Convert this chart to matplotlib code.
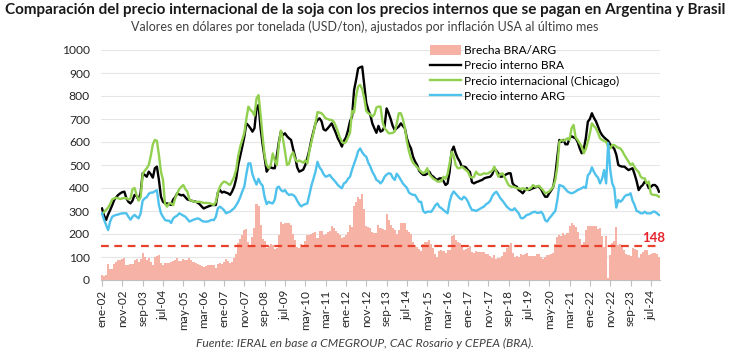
import matplotlib.pyplot as plt
import numpy as np

plt.rcParams['font.family'] = ['Lato', 'DejaVu Sans']

# Monthly values, ene-02 .. nov-24, USD/ton adjusted for US inflation
bra = [
    311, 280, 261, 285, 304, 325, 348, 360, 370, 377, 382, 384,  # 2002
    355, 340, 333, 345, 370, 365, 348, 380, 464, 457, 449, 471,  # 2003
    460, 445, 486, 493, 435, 362, 340, 333, 333, 330, 326, 350,  # 2004
    360, 377, 372, 368, 370, 360, 350, 348, 345, 342, 341, 336,  # 2005
    330, 320, 311, 315, 319, 322, 326, 326, 326, 380, 391, 380,  # 2006
    384, 380, 377, 370, 385, 406, 440, 500, 540, 580, 623, 681,  # 2007
    672, 660, 645, 660, 745, 761, 660, 590, 529, 471, 486, 490,  # 2008
    486, 486, 540, 600, 645, 630, 638, 625, 616, 609, 570, 536,  # 2009
    490, 471, 475, 480, 500, 530, 565, 610, 645, 680, 696, 703,  # 2010
    690, 655, 650, 659, 670, 681, 660, 640, 616, 600, 580, 605,  # 2011
    620, 650, 690, 710, 826, 870, 920, 925, 928, 850, 770, 740,  # 2012
    717, 680, 659, 640, 670, 645, 650, 667, 746, 725, 700, 670,  # 2013
    652, 660, 667, 681, 670, 659, 616, 590, 572, 536, 515, 500,  # 2014
    475, 465, 457, 457, 462, 471, 455, 449, 440, 435, 442, 442,  # 2015
    430, 413, 420, 471, 560, 580, 551, 530, 515, 493, 493, 490,  # 2016
    478, 470, 425, 420, 425, 428, 432, 435, 442, 445, 447, 449,  # 2017
    460, 486, 475, 464, 449, 450, 455, 460, 464, 464, 420, 410,  # 2018
    406, 391, 385, 377, 390, 399, 391, 395, 399, 402, 406, 406,  # 2019
    395, 377, 362, 362, 377, 390, 406, 457, 536, 609, 600, 609,  # 2020
    590, 590, 616, 625, 620, 616, 600, 572, 551, 570, 616, 688,  # 2021
    700, 725, 705, 690, 667, 645, 630, 620, 612, 605, 590, 580,  # 2022
    570, 545, 500, 495, 493, 493, 485, 478, 482, 486, 460, 430,  # 2023
    391, 405, 413, 428, 420, 399, 405, 413, 413, 405, 384,       # 2024
]

chicago = [
    288, 295, 305, 315, 330, 350, 355, 358, 355, 352, 355, 356,
    356, 350, 355, 395, 400, 370, 345, 360, 460, 475, 486, 500,
    540, 590, 609, 605, 543, 470, 435, 330, 319, 333, 333, 325,
    355, 377, 395, 405, 413, 395, 384, 350, 345, 342, 340, 340,
    340, 338, 335, 335, 335, 333, 330, 326, 340, 380, 406, 420,
    428, 425, 418, 413, 430, 449, 480, 540, 580, 610, 640, 700,
    754, 740, 732, 715, 790, 804, 720, 623, 540, 500, 486, 500,
    550, 520, 500, 590, 650, 615, 560, 500, 505, 540, 555, 525,
    514, 520, 515, 510, 520, 507, 560, 600, 640, 680, 730, 728,
    725, 715, 703, 700, 696, 696, 688, 670, 645, 620, 601, 594,
    600, 620, 640, 735, 728, 800, 841, 848, 830, 790, 735, 725,
    720, 710, 720, 750, 754, 754, 688, 659, 650, 638, 638, 640,
    645, 680, 725, 725, 700, 660, 601, 560, 529, 510, 500, 490,
    480, 471, 464, 470, 486, 460, 449, 440, 435, 428, 428, 430,
    449, 440, 460, 507, 558, 540, 500, 486, 486, 493, 485, 478,
    471, 450, 445, 449, 471, 460, 457, 460, 464, 462, 464, 470,
    475, 493, 470, 449, 460, 464, 449, 430, 413, 406, 406, 404,
    399, 399, 395, 399, 396, 391, 395, 400, 413, 406, 406, 410,
    400, 390, 377, 380, 385, 395, 406, 435, 493, 600, 609, 605,
    610, 616, 609, 660, 674, 620, 609, 594, 580, 551, 570, 600,
    638, 681, 670, 659, 640, 616, 609, 605, 601, 580, 572, 587,
    587, 580, 575, 572, 560, 543, 529, 515, 500, 507, 490, 478,
    470, 449, 442, 442, 420, 428, 375, 370, 370, 368, 362,
]

arg = [
    290, 262, 240, 217, 254, 275, 280, 283, 285, 288, 290, 290,
    290, 275, 262, 275, 283, 275, 268, 290, 345, 355, 360, 375,
    380, 380, 386, 390, 326, 290, 275, 261, 258, 258, 248, 268,
    275, 280, 290, 285, 280, 275, 265, 254, 258, 262, 265, 268,
    265, 258, 254, 254, 254, 258, 262, 260, 275, 312, 319, 312,
    304, 290, 294, 297, 305, 312, 325, 340, 360, 385, 406, 460,
    507, 507, 460, 435, 415, 440, 420, 410, 360, 330, 340, 335,
    333, 350, 400, 406, 391, 385, 391, 377, 370, 372, 370, 362,
    345, 330, 320, 326, 330, 333, 370, 410, 440, 470, 514, 490,
    478, 460, 449, 452, 457, 445, 435, 425, 413, 405, 399, 420,
    425, 440, 449, 480, 505, 530, 560, 572, 555, 543, 536, 510,
    493, 470, 455, 435, 430, 420, 430, 449, 458, 464, 462, 445,
    435, 462, 450, 435, 420, 410, 400, 380, 374, 370, 370, 355,
    340, 340, 300, 292, 297, 297, 297, 310, 325, 333, 318, 312,
    304, 297, 290, 340, 370, 385, 375, 365, 355, 350, 362, 355,
    341, 320, 304, 304, 300, 305, 310, 315, 320, 330, 335, 345,
    365, 377, 384, 370, 355, 345, 333, 320, 312, 305, 304, 312,
    300, 290, 270, 268, 275, 283, 285, 290, 295, 297, 292, 292,
    297, 285, 260, 254, 268, 278, 290, 300, 348, 413, 410, 406,
    395, 385, 380, 377, 380, 385, 391, 395, 399, 405, 400, 455,
    465, 490, 470, 455, 445, 420, 440, 478, 420, 595, 480, 420,
    400, 315, 348, 340, 348, 362, 370, 370, 377, 345, 326, 300,
    297, 290, 290, 297, 290, 290, 290, 297, 297, 290, 283,
]

brecha = [
    21, 18, 21, 68, 50, 50, 68, 77, 85, 89, 92, 94,
    65, 65, 71, 70, 87, 90, 80, 90, 119, 102, 89, 96,
    80, 65, 100, 103, 109, 72, 65, 72, 75, 72, 78, 82,
    85, 97, 82, 83, 90, 85, 85, 94, 87, 80, 76, 68,
    65, 62, 57, 61, 65, 64, 64, 66, 51, 68, 72, 68,
    80, 90, 83, 73, 80, 94, 115, 160, 180, 195, 217, 221,
    165, 153, 185, 225, 330, 321, 240, 180, 169, 141, 146, 155,
    153, 136, 140, 194, 254, 245, 247, 248, 246, 237, 200, 174,
    145, 141, 155, 154, 170, 197, 195, 200, 205, 210, 182, 213,
    212, 195, 201, 207, 213, 236, 225, 215, 203, 195, 181, 185,
    195, 210, 241, 230, 321, 340, 360, 353, 373, 307, 234, 230,
    224, 210, 204, 205, 240, 225, 220, 218, 288, 261, 238, 225,
    217, 198, 217, 246, 250, 249, 216, 210, 198, 166, 145, 145,
    135, 125, 157, 165, 165, 174, 158, 139, 115, 102, 124, 130,
    126, 116, 130, 131, 190, 195, 176, 165, 160, 143, 131, 135,
    137, 150, 121, 116, 125, 123, 122, 120, 122, 115, 112, 104,
    95, 109, 91, 94, 94, 105, 122, 140, 152, 159, 116, 98,
    106, 101, 115, 109, 115, 116, 106, 105, 104, 105, 114, 114,
    98, 92, 102, 108, 109, 112, 116, 157, 188, 196, 190, 203,
    195, 205, 236, 248, 240, 231, 209, 177, 152, 165, 216, 233,
    235, 235, 235, 235, 222, 225, 190, 142, 192, 10, 110, 160,
    170, 230, 152, 155, 145, 131, 115, 108, 105, 141, 134, 130,
    94, 115, 123, 131, 130, 109, 115, 116, 116, 115, 101,
]

brecha_promedio = 148

tick_labels = ['ene-02', 'nov-02', 'sep-03', 'jul-04', 'may-05', 'mar-06', 'ene-07',
               'nov-07', 'sep-08', 'jul-09', 'may-10', 'mar-11', 'ene-12', 'nov-12',
               'sep-13', 'jul-14', 'may-15', 'mar-16', 'ene-17', 'nov-17', 'sep-18',
               'jul-19', 'may-20', 'mar-21', 'ene-22', 'nov-22', 'sep-23', 'jul-24']
tick_step = 10  # months between labels

W, H = 730, 352
fig = plt.figure(figsize=(W / 100, H / 100), dpi=100)
ax = fig.add_axes([101 / W, 1 - 280 / H, 559 / W, 230 / H])

x = np.arange(len(bra))

ax.bar(x, brecha, width=1.0, color='#F6B2A4', linewidth=0, label='Brecha BRA/ARG', zorder=2)
ax.axhline(brecha_promedio, color='#E8422C', linestyle=(0, (3.5, 2.5)), linewidth=1.6, zorder=3)
ax.plot(x, bra, color='black', linewidth=1.7, label='Precio interno BRA', zorder=4)
ax.plot(x, chicago, color='#92D050', linewidth=1.7, label='Precio internacional (Chicago)', zorder=5)
ax.plot(x, arg, color='#4EC1EC', linewidth=1.7, label='Precio interno ARG', zorder=6)

ax.text(len(x) + 2, brecha_promedio + 8, str(brecha_promedio), color='#E8222C',
        fontsize=9.5, fontweight='bold', ha='right', va='bottom', zorder=7)

ax.set_xlim(-0.5, len(x) - 0.5)
ax.set_ylim(0, 1000)
ax.set_yticks(np.arange(0, 1001, 100))
ax.yaxis.grid(True, color='#E6E6E6', linewidth=0.8, zorder=0)
ax.set_axisbelow(True)

ax.set_xticks(np.arange(len(tick_labels)) * tick_step)
ax.set_xticklabels(tick_labels, rotation=90, fontsize=8.5, color='#262626')
ax.tick_params(axis='x', length=4, color='#BFBFBF', pad=3)
ax.tick_params(axis='y', length=0, labelsize=8.7, labelcolor='#262626', pad=8)

for s in ['top', 'right', 'left']:
    ax.spines[s].set_visible(False)
ax.spines['bottom'].set_color('#BFBFBF')

handles, labels = ax.get_legend_handles_labels()
order = [3, 0, 1, 2]
fig.legend([handles[i] for i in order], [labels[i] for i in order],
           loc='upper left', bbox_to_anchor=(425 / W, 1 - 40 / H), frameon=False,
           fontsize=8.6, handlelength=2.6, handleheight=0.9, labelspacing=0.36,
           handletextpad=0.3, borderaxespad=0)

fig.text(0.5, 1 - 10 / H,
         'Comparación del precio internacional de la soja con los precios internos que se pagan en Argentina y Brasil',
         ha='center', va='center', fontsize=11, fontweight='bold', color='#1a1a1a')
fig.text(0.5, 1 - 27 / H,
         'Valores en dólares por tonelada (USD/ton), ajustados por inflación USA al último mes',
         ha='center', va='center', fontsize=9, color='#404040')
fig.text(0.5, 1 - 343 / H,
         'Fuente: IERAL en base a CMEGROUP, CAC Rosario y CEPEA (BRA).',
         ha='center', va='center', fontsize=8.7, style='italic', color='#404040')

fig.savefig('out.png', dpi=100)
